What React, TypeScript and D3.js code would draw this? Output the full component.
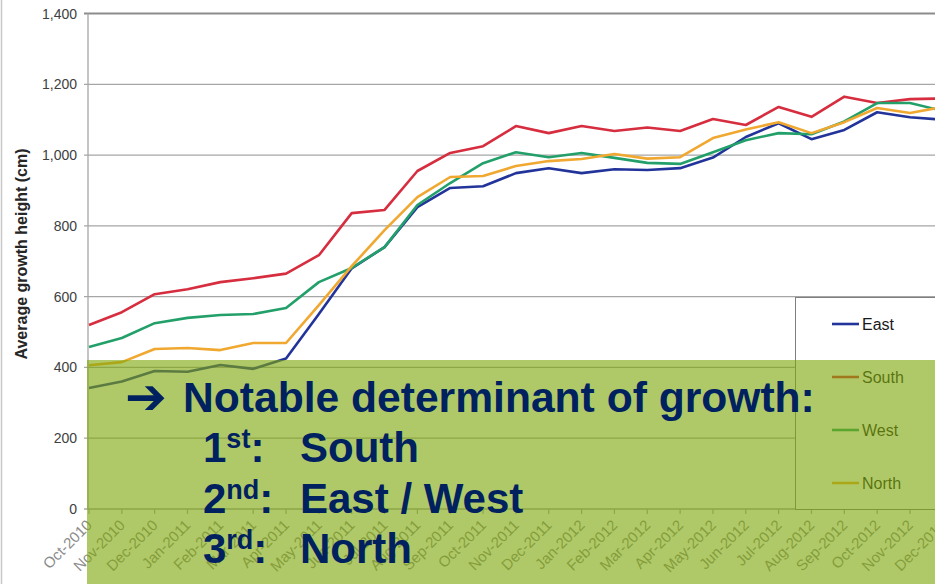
import React from "react";
import * as d3 from "d3";

// Monthly survey dates
const months = [
  "Oct-2010", "Nov-2010", "Dec-2010", "Jan-2011", "Feb-2011", "Mar-2011", "Apr-2011",
  "May-2011", "Jun-2011", "Jul-2011", "Aug-2011", "Sep-2011", "Oct-2011", "Nov-2011",
  "Dec-2011", "Jan-2012", "Feb-2012", "Mar-2012", "Apr-2012", "May-2012", "Jun-2012",
  "Jul-2012", "Aug-2012", "Sep-2012", "Oct-2012", "Nov-2012", "Dec-2012",
];

// Average growth height (cm) per aspect
const east = [342, 360, 390, 388, 407, 396, 425, 551, 680, 740, 853, 907, 912, 949, 963, 949, 960, 958, 963, 993, 1051, 1090, 1045, 1071, 1121, 1107, 1100];
const south = [520, 556, 607, 621, 641, 652, 665, 717, 836, 845, 955, 1006, 1025, 1082, 1062, 1082, 1068, 1078, 1068, 1102, 1085, 1136, 1108, 1165, 1147, 1158, 1160];
const west = [458, 483, 525, 540, 548, 551, 568, 641, 681, 740, 859, 921, 977, 1008, 994, 1006, 992, 978, 975, 1008, 1042, 1062, 1059, 1095, 1147, 1147, 1125];
const north = [406, 415, 452, 455, 449, 469, 469, 576, 686, 788, 881, 938, 941, 969, 983, 989, 1003, 990, 994, 1048, 1072, 1093, 1062, 1093, 1133, 1119, 1136];

const seriesNames = ["East", "South", "West", "North"];
const seriesValues = [east, south, west, north];
const seriesColors = ["#22349A", "#D62D3F", "#23A06A", "#F0A830"];

const yTicks = [0, 200, 400, 600, 800, 1000, 1200, 1400];

const W = 935;
const H = 584;

export default function App() {
  const x = d3
    .scalePoint<string>()
    .domain(months)
    .range([89, 89 + 26 * 32.84]);
  const y = d3.scaleLinear().domain([0, 1400]).range([509, 13.5]);
  const fmt = d3.format(",");

  const line = d3
    .line<number>()
    .x((_, i) => x(months[i]) as number)
    .y((d) => y(d));

  const sans = "'Liberation Sans', Arial, sans-serif";

  return (
    <svg
      width={W}
      height={H}
      style={{ position: "absolute", left: 0, top: 0, background: "#fff" }}
      fontFamily={sans}
    >
      <rect x={0} y={0} width={W} height={H} fill="#fff" />
      <line x1={1.5} x2={1.5} y1={0} y2={H} stroke="#C8C8C8" strokeWidth={1.5} />

      {/* horizontal gridlines */}
      {yTicks.map((t) => (
        <line
          key={t}
          x1={84}
          x2={W}
          y1={y(t)}
          y2={y(t)}
          stroke={t === 1400 ? "#8C8C8C" : "#A6A6A6"}
          strokeWidth={t === 1400 ? 2 : 1.3}
        />
      ))}
      {/* y axis */}
      <line x1={88} x2={88} y1={y(1400)} y2={y(0)} stroke="#A6A6A6" strokeWidth={1.3} />
      {yTicks.map((t) => (
        <text key={t} x={77} y={y(t) + 5} textAnchor="end" fontSize={14} fill="#404040">
          {fmt(t)}
        </text>
      ))}
      <text
        transform={`translate(27,254) rotate(-90)`}
        textAnchor="middle"
        fontSize={16}
        fontWeight="bold"
        fill="#262626"
      >
        Average growth height (cm)
      </text>

      {/* x axis ticks and labels */}
      {months.map((m) => (
        <line
          key={m}
          x1={x(m)}
          x2={x(m)}
          y1={y(0)}
          y2={y(0) + 5}
          stroke="#A6A6A6"
          strokeWidth={1.2}
        />
      ))}
      {months.map((m) => (
        <text
          key={m}
          transform={`translate(${(x(m) as number) + 4},${526}) rotate(-45)`}
          textAnchor="end"
          fontSize={15}
          fill="#8C8C8C"
        >
          {m}
        </text>
      ))}

      {/* series */}
      {seriesValues.map((vals, i) => (
        <path
          key={seriesNames[i]}
          d={line(vals) || ""}
          fill="none"
          stroke={seriesColors[i]}
          strokeWidth={2.6}
          strokeLinejoin="round"
        />
      ))}

      {/* legend */}
      <rect x={795.5} y={297.5} width={200} height={212} fill="#fff" stroke="#7F7F7F" strokeWidth={1} />
      {seriesNames.map((n, i) => (
        <g key={n} transform={`translate(0,${324 + i * 53})`}>
          <line x1={832} x2={859} y1={0} y2={0} stroke={seriesColors[i]} strokeWidth={2.6} />
          <text x={862} y={6} fontSize={16} fill="#1A1A1A">
            {n}
          </text>
        </g>
      ))}

      {/* callout panel */}
      <rect x={87} y={360} width={W - 87} height={H - 360} fill="rgb(128,168,12)" fillOpacity={0.62} />
      <g fill="#00215F" fontWeight="bold" fontSize={42}>
        <text x={125} y={414} fontFamily="'DejaVu Sans', sans-serif" fontSize={50}>
          ➔
        </text>
        <text x={183} y={412} fontSize={42.6}>Notable determinant of growth:</text>

        <text x={203} y={462}>
          1<tspan fontSize={27} dy={-14}>st</tspan>
          <tspan dy={14}>:</tspan>
        </text>
        <text x={300} y={462}>South</text>

        <text x={203} y={513}>
          2<tspan fontSize={27} dy={-14}>nd</tspan>
          <tspan dy={14}>:</tspan>
        </text>
        <text x={300} y={513}>East / West</text>

        <text x={203} y={563}>
          3<tspan fontSize={27} dy={-14}>rd</tspan>
          <tspan dy={14}>:</tspan>
        </text>
        <text x={300} y={563}>North</text>
      </g>
    </svg>
  );
}
